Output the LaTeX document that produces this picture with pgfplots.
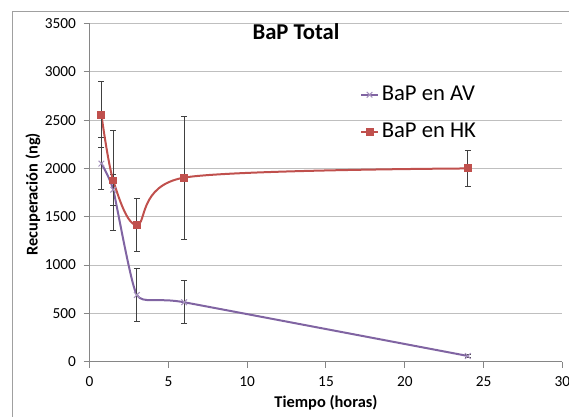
\documentclass[border=0pt]{standalone}
\usepackage{pgfplots}
\pgfplotsset{compat=1.18}
\usepackage{fontspec}
\setmainfont{Carlito}

\definecolor{avcol}{HTML}{8064A2}
\definecolor{hkcol}{HTML}{C0504D}
\definecolor{gridcol}{HTML}{BFBFBF}
\definecolor{axiscol}{HTML}{868686}
\definecolor{framecol}{HTML}{A0A0A0}
\definecolor{errcol}{HTML}{404040}

\newcommand{\legfont}{\fontsize{17}{20}\selectfont}

\begin{document}
\begin{tikzpicture}
\useasboundingbox (0,0) rectangle (426.75pt,312.75pt);
% chart area frame
\draw[framecol, line width=0.75pt] (9.5pt,0) -- (9.5pt,304.25pt) -- (430pt,304.25pt);

\begin{axis}[
  at={(67.2pt,41.5pt)}, anchor=south west,
  scale only axis,
  width=354.6pt, height=253.6pt,
  xmin=0, xmax=30, ymin=0, ymax=3500,
  xtick={0,5,...,30}, ytick={0,500,...,3500},
  axis x line*=bottom, axis y line*=left,
  axis line style={draw=axiscol, line width=0.75pt, -},
  tick align=outside, major tick length=4.5pt,
  tick style={draw=axiscol, line width=0.75pt},
  ymajorgrids, grid style={draw=gridcol, line width=0.75pt},
  /pgf/number format/assume math mode=true,
  /pgf/number format/1000 sep={},
  tick label style={font=\fontsize{11.5}{13}\selectfont, text=black},
  xticklabel style={yshift=-3.2pt},
  yticklabel style={xshift=-2.2pt},
  xlabel={\textbf{Tiempo (horas)}},
  ylabel={\textbf{Recuperación (ng)}},
  label style={font=\fontsize{12.3}{14}\selectfont},
  xlabel style={at={(axis description cs:0.5,-0.122)}, anchor=center},
  ylabel style={at={(axis description cs:-0.12,0.495)}, anchor=center},
  legend style={at={(axis description cs:0.5714,0.8158)}, anchor=north west,
    draw=none, fill=none, inner sep=0pt, row sep=14.75pt, column sep=2pt,
    font=\legfont,
    nodes={inner sep=0pt, text height=10.5pt, text depth=2.5pt, font=\legfont}},
  legend cell align=left,
  legend image code/.code={
    \draw[mark repeat=2, mark phase=2] plot coordinates {(0cm,0cm) (0.225cm,0cm) (0.45cm,0cm)};},
  clip=false,
]
% BaP en AV
\addplot[avcol, line width=1.5pt, smooth, tension=0.3, mark=x, mark size=3pt,
  mark options={line width=0.75pt, draw=avcol!70},
  error bars/.cd, y dir=both, y explicit,
  error bar style={errcol, line width=0.75pt},
  error mark options={rotate=90, mark size=2.25pt, errcol, line width=0.75pt}]
  coordinates {
    (0.75,2050) +- (0,270)
    (1.5,1780)  +- (0,160)
    (3,690)     +- (0,277)
    (6,615)     +- (0,225)
    (24,59)     +- (0,18)
  };
\addlegendentry{BaP en AV}
% BaP en HK
\addplot[hkcol, line width=1.5pt, smooth, mark=square*, mark size=2.6pt,
  mark options={line width=0pt},
  error bars/.cd, y dir=both, y explicit,
  error bar style={errcol, line width=0.75pt},
  error mark options={rotate=90, mark size=2.25pt, errcol, line width=0.75pt}]
  coordinates {
    (0.75,2555) +- (0,340)
    (1.5,1875)  +- (0,515)
    (3,1415)    +- (0,270)
    (6,1905)    +- (0,636)
    (24,2000)   +- (0,185)
  };
\addlegendentry{BaP en HK}
\end{axis}

\node[font=\bfseries\fontsize{17}{20}\selectfont] at (222pt,288.75pt) {BaP Total};
\end{tikzpicture}
\end{document}
